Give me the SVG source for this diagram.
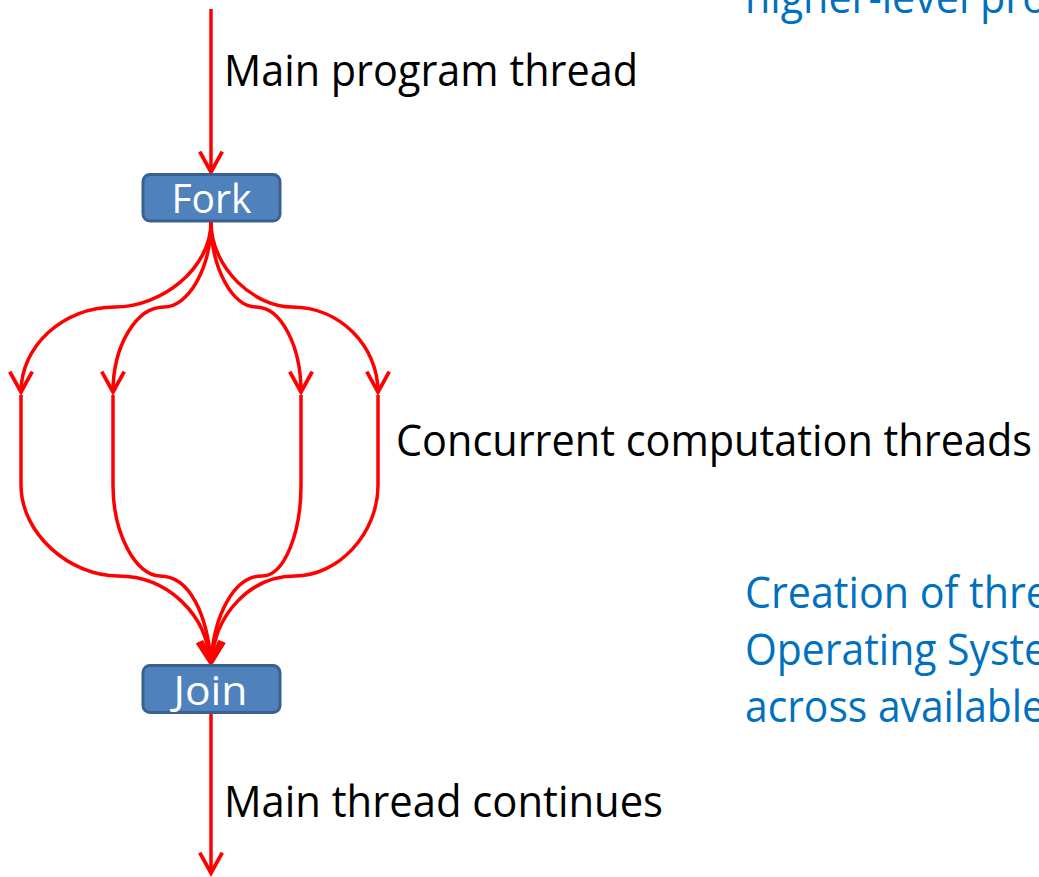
<svg xmlns="http://www.w3.org/2000/svg" width="1039" height="877" viewBox="0 0 1039 877">
  <style>
    .flow { fill: none; stroke: #FF0000; stroke-width: 3.5; }
    .box rect { fill: #4F81BD; stroke: #3A6090; stroke-width: 3; }
    .box text { font-family: "Open Sans", "Liberation Sans", sans-serif; font-size: 40px; fill: #FFFFFF; text-anchor: middle; }
    .label { font-family: "Open Sans", "Liberation Sans", sans-serif; font-size: 44px; fill: #000000; }
    .note { font-family: "Open Sans", "Liberation Sans", sans-serif; font-size: 44px; fill: #0070C0; }
  </style>
  <defs>
    <marker id="vhead" markerUnits="userSpaceOnUse" markerWidth="30" markerHeight="30" viewBox="-22 -14 26 28" refX="0" refY="0" orient="auto" overflow="visible">
      <path d="M-19,-10.5 L0,0 L-19,10.5" fill="none" stroke="#FF0000" stroke-width="3.5" stroke-linejoin="miter" stroke-linecap="butt"/>
    </marker>
  </defs>

  <rect width="1039" height="877" fill="#FFFFFF"/>

  <!-- notes on the right, running off the slide edge -->
  <text class="note" x="745" y="13" textLength="302" lengthAdjust="spacingAndGlyphs">higher-level pro</text>
  <text class="note" x="745" y="608" textLength="304" lengthAdjust="spacingAndGlyphs">Creation of thre</text>
  <text class="note" x="745" y="665" textLength="302" lengthAdjust="spacingAndGlyphs">Operating Syste</text>
  <text class="note" x="745" y="722" textLength="300" lengthAdjust="spacingAndGlyphs">across available</text>

  <!-- thread labels -->
  <text class="label" x="224" y="86" textLength="414" lengthAdjust="spacingAndGlyphs">Main program thread</text>
  <text class="label" x="396" y="456" textLength="636" lengthAdjust="spacingAndGlyphs">Concurrent computation threads</text>
  <text class="label" x="224" y="817" textLength="439" lengthAdjust="spacingAndGlyphs">Main thread continues</text>

  <g id="connectors">
    <!-- main thread into fork -->
    <path class="flow" d="M211,9 L211,172" marker-end="url(#vhead)"/>
    <!-- fork fan-out -->
    <path class="flow" d="M211,222 C211,269 161,307 115,307 C63,307 21,346 21,392" marker-end="url(#vhead)"/>
    <path class="flow" d="M211,222 C211,269 188,307 164,307 C136,307 113,346 113,392" marker-end="url(#vhead)"/>
    <path class="flow" d="M211,222 C211,269 233,307 256,307 C281,307 301,346 301,392" marker-end="url(#vhead)"/>
    <path class="flow" d="M211,222 C211,269 255,307 292,307 C340,307 378,346 378,392" marker-end="url(#vhead)"/>
    <!-- concurrent threads -->
    <path class="flow" d="M21,395 L21,485"/>
    <path class="flow" d="M113,395 L113,485"/>
    <path class="flow" d="M301,395 L301,485"/>
    <path class="flow" d="M378,395 L378,485"/>
    <!-- merge into join -->
    <path class="flow" d="M21,485 C21,534 70,576 118,576 C168,576 207,615 210,662" marker-end="url(#vhead)"/>
    <path class="flow" d="M113,485 C113,534 136,576 160,576 C190,576 207,615 211,662" marker-end="url(#vhead)"/>
    <path class="flow" d="M301,485 C301,534 284,576 262,576 C234,576 214,615 211,662" marker-end="url(#vhead)"/>
    <path class="flow" d="M378,485 C378,534 338,576 295,576 C250,576 214,615 212,662" marker-end="url(#vhead)"/>
    <!-- main thread after join -->
    <path class="flow" d="M211,714 L211,873" marker-end="url(#vhead)"/>
  </g>

  <g id="fork" class="box">
    <rect x="143" y="174.5" width="137" height="46.5" rx="7" ry="7"/>
    <text x="211.5" y="213" textLength="80" lengthAdjust="spacingAndGlyphs">Fork</text>
  </g>

  <g id="join" class="box">
    <rect x="143" y="665.5" width="137" height="47" rx="7" ry="7"/>
    <text x="210.5" y="705" textLength="74" lengthAdjust="spacingAndGlyphs">Join</text>
  </g>
</svg>
